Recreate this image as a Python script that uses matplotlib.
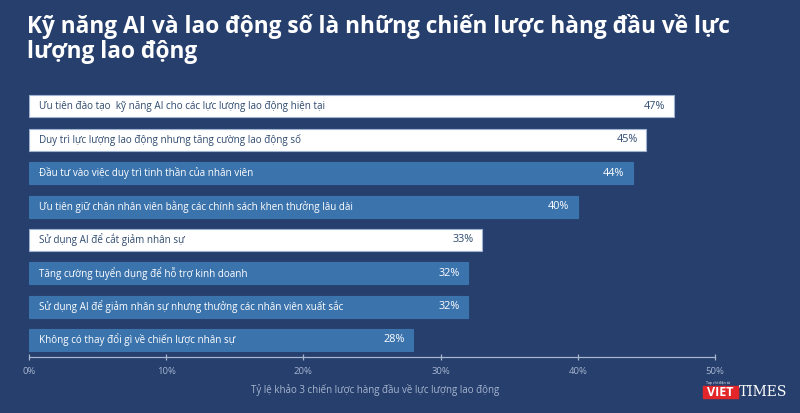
import matplotlib
matplotlib.use("Agg")
import matplotlib.pyplot as plt
from matplotlib.patches import Rectangle

categories = [
    "Ưu tiên đào tạo  kỹ năng AI cho các lực lượng lao động hiện tại",
    "Duy trì lực lượng lao động nhưng tăng cường lao động số",
    "Đầu tư vào việc duy trì tinh thần của nhân viên",
    "Ưu tiên giữ chân nhân viên bằng các chính sách khen thưởng lâu dài",
    "Sử dụng AI để cắt giảm nhân sự",
    "Tăng cường tuyển dụng để hỗ trợ kinh doanh",
    "Sử dụng AI để giảm nhân sự nhưng thưởng các nhân viên xuất sắc",
    "Không có thay đổi gì về chiến lược nhân sự",
]
values = [47, 45, 44, 40, 33, 32, 32, 28]
highlight = [True, True, False, False, True, False, False, False]
xticks = [0, 10, 20, 30, 40, 50]
xtick_labels = ["0%", "10%", "20%", "30%", "40%", "50%"]
title_lines = ["Kỹ năng AI và lao động số là những chiến lược hàng đầu về lực",
               "lượng lao động"]
xlabel = "Tỷ lệ khảo 3 chiến lược hàng đầu về lực lượng lao động"

BG = "#263f6d"
BLUE = "#3b73ad"
WHITE = "#ffffff"
DARKTXT = "#2e4a6e"
AXISC = "#a7b6cf"
FONT = ["Open Sans", "DejaVu Sans"]

plt.rcParams["font.family"] = FONT

fig = plt.figure(figsize=(8, 4.13), dpi=100, facecolor=BG)
ax = fig.add_axes([0.03625, 0.1356, 0.8575, 0.647])
ax.set_facecolor(BG)

ypos = list(range(len(categories)))
colors = [WHITE if h else BLUE for h in highlight]
ax.barh(ypos, values, height=0.66, color=colors,
        edgecolor=["#9fb3d1" if h else BLUE for h in highlight], linewidth=0.8)

for y, v, c, h in zip(ypos, values, categories, highlight):
    tc = DARKTXT if h else WHITE
    ax.annotate(c, xy=(0, y), xytext=(7, 0), textcoords="offset points",
                va="center", ha="left", fontsize=7.1, color=tc)
    ax.annotate(f"{v}%", xy=(v, y), xytext=(-6, 0), textcoords="offset points",
                va="center", ha="right", fontsize=7.8, color=tc)

ax.set_xlim(0, 50)
ax.set_ylim(7.51, -0.5)
ax.set_yticks([])
ax.set_xticks(xticks)
ax.set_xticklabels(xtick_labels)
ax.tick_params(axis="x", direction="inout", length=4.5, width=0.9,
               color=AXISC, labelcolor=AXISC, labelsize=6.8, pad=5)
for s in ["top", "right", "left"]:
    ax.spines[s].set_visible(False)
ax.spines["bottom"].set_color(AXISC)
ax.spines["bottom"].set_linewidth(0.9)
ax.set_xlabel(xlabel, color=AXISC, fontsize=7)
ax.xaxis.set_label_coords(0.505, -0.102)

fig.text(27 / 800, 1 - 33 / 413, title_lines[0], ha="left", va="baseline",
         color="white", fontsize=16.3, fontweight="bold")
fig.text(27 / 800, 1 - 58 / 413, title_lines[1], ha="left", va="baseline",
         color="white", fontsize=16.3, fontweight="bold")

# watermark logo
fig.patches.append(Rectangle((703 / 800, 1 - 398 / 413), 35 / 800, 12 / 413,
                             transform=fig.transFigure, color="#e3262a", zorder=5))
fig.text(720.5 / 800, 1 - 392 / 413, "VIET", ha="center", va="center",
         color="white", fontsize=9, fontweight="bold", zorder=6)
fig.text(739 / 800, 1 - 392 / 413, "TIMES", ha="left", va="center",
         color="white", fontsize=10, family="DejaVu Serif", zorder=6)
fig.text(706 / 800, 1 - 383 / 413, "Tạp chí điện tử", ha="left", va="center",
         color="white", fontsize=2.5, zorder=6)

fig.savefig("out.png", dpi=100, facecolor=BG)
